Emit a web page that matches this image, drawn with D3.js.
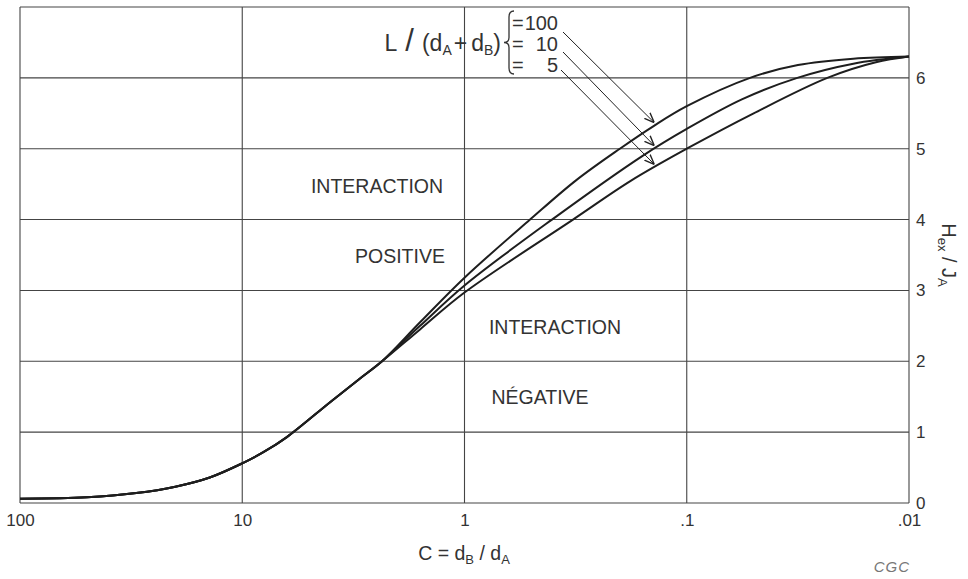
<!DOCTYPE html>
<html>
<head>
<meta charset="utf-8">
<script src="https://cdn.jsdelivr.net/npm/d3@7"></script>
<style>
  html, body { margin: 0; padding: 0; background: #fff; }
  svg { display: block; font-family: "Liberation Sans", Arial, sans-serif; }
</style>
</head>
<body>
<svg id="chart" width="968" height="579"></svg>
<script>
// Exchange field ratio H_ex/J_A versus thickness ratio C = d_B/d_A
const xTicks = [100, 10, 1, 0.1, 0.01];
const xTickLabels = ["100", "10", "1", ".1", ".01"];
const yTicks = [0, 1, 2, 3, 4, 5, 6];

// shared branch (all L/(dA+dB) values coincide here)
const commonC = [100, 50, 30, 20, 14, 10, 8, 6.3, 4, 3, 2.35];
const commonH = [0.06, 0.08, 0.14, 0.23, 0.36, 0.56, 0.72, 0.93, 1.43, 1.74, 2.0];

// L/(dA+dB) = 100
const c100 = [1.585, 1, 0.507, 0.316, 0.2, 0.141, 0.1, 0.0519, 0.0316, 0.0178, 0.01];
const h100 = [2.55, 3.18, 4.0, 4.55, 5.0, 5.32, 5.6, 6.0, 6.18, 6.27, 6.3];
// L/(dA+dB) = 10
const c10 = [1.585, 1, 0.404, 0.158, 0.1, 0.0562, 0.0318, 0.0178, 0.01];
const h10 = [2.5, 3.07, 4.0, 4.9, 5.28, 5.7, 6.0, 6.2, 6.3];
// L/(dA+dB) = 5
const c5 = [1.585, 1, 0.325, 0.178, 0.1, 0.05, 0.0233, 0.0141, 0.01];
const h5 = [2.45, 2.97, 4.0, 4.55, 5.0, 5.5, 6.0, 6.22, 6.3];

const legendValues = ["100", "10", "5"];
const arrowC = 0.14;

const svg = d3.select("#chart");
const mLeft = 20, mRight = 909, mTop = 7, mBottom = 503;

const x = d3.scaleLog().domain([100, 0.01]).range([mLeft, mRight]);
const y = d3.scaleLinear().domain([0, 7]).range([mBottom, mTop]);

const gridColor = "#444";
const textColor = "#333";

// grid and frame
const g = svg.append("g");
g.selectAll("line.vx").data(xTicks).enter().append("line")
  .attr("x1", d => x(d)).attr("x2", d => x(d))
  .attr("y1", mTop).attr("y2", mBottom)
  .attr("stroke", gridColor).attr("stroke-width", 1.1);
g.selectAll("line.hy").data(yTicks.concat([7])).enter().append("line")
  .attr("x1", mLeft).attr("x2", mRight)
  .attr("y1", d => y(d)).attr("y2", d => y(d))
  .attr("stroke", gridColor).attr("stroke-width", 1.1);

// tick labels via d3 axes
const xAxis = d3.axisBottom(x).tickValues(xTicks)
  .tickFormat((d, i) => xTickLabels[i]).tickSize(0).tickPadding(11);
svg.append("g").attr("transform", `translate(0,${mBottom})`).call(xAxis)
  .call(s => s.select(".domain").remove())
  .selectAll("text").attr("font-size", 17).attr("fill", textColor)
  .attr("font-family", "'Liberation Sans Narrow', 'Liberation Sans', sans-serif");

const yAxis = d3.axisRight(y).tickValues(yTicks).tickFormat(d3.format("d"))
  .tickSize(0).tickPadding(7);
svg.append("g").attr("transform", `translate(${mRight},0)`).call(yAxis)
  .call(s => s.select(".domain").remove())
  .selectAll("text").attr("font-size", 17).attr("fill", textColor);

// curves
const line = d3.line().x(d => x(d[0])).y(d => y(d[1])).curve(d3.curveCatmullRom.alpha(0.5));
const zip = (a, b) => a.map((v, i) => [v, b[i]]);
const common = zip(commonC, commonH);
const series = [zip(c100, h100), zip(c10, h10), zip(c5, h5)];
series.forEach(s => {
  svg.append("path").datum(common.concat(s))
    .attr("d", line).attr("fill", "none")
    .attr("stroke", "#1e1e1e").attr("stroke-width", 2);
});

// region labels
const regionLabels = [
  { t: "INTERACTION", cx: 377, cy: 186 },
  { t: "POSITIVE", cx: 400, cy: 256 },
  { t: "INTERACTION", cx: 555, cy: 327 },
  { t: "NÉGATIVE", cx: 540, cy: 397 }
];
svg.selectAll("text.region").data(regionLabels).enter().append("text")
  .attr("x", d => d.cx).attr("y", d => d.cy)
  .attr("text-anchor", "middle").attr("dominant-baseline", "central")
  .attr("font-size", 19.5).attr("fill", textColor).text(d => d.t);

// legend: L/(dA+dB) with brace
const leg = svg.append("text").attr("x", 501).attr("y", 51)
  .attr("text-anchor", "end")
  .attr("font-size", 23).attr("fill", textColor);
leg.append("tspan").text("L");
leg.append("tspan").text("/").attr("font-size", 31).attr("dx", 8);
leg.append("tspan").text("(d").attr("font-size", 23).attr("dx", 8);
leg.append("tspan").text("A").attr("font-size", 14).attr("dy", 4);
leg.append("tspan").text("+").attr("font-size", 23).attr("dy", -4).attr("dx", 2);
leg.append("tspan").text("d").attr("font-size", 23).attr("dx", 4);
leg.append("tspan").text("B").attr("font-size", 14).attr("dy", 4);
leg.append("tspan").text(")").attr("font-size", 23).attr("dy", -4);

// curly brace
const bx = 509, by0 = 11, by1 = 74, bm = (by0 + by1) / 2;
svg.append("path")
  .attr("d", `M${bx + 5},${by0} Q${bx},${by0} ${bx},${by0 + 6} L${bx},${bm - 5} Q${bx},${bm} ${bx - 5},${bm} Q${bx},${bm} ${bx},${bm + 5} L${bx},${by1 - 6} Q${bx},${by1} ${bx + 5},${by1}`)
  .attr("fill", "none").attr("stroke", textColor).attr("stroke-width", 1.3);

const legY = [23, 44, 65];
svg.selectAll("text.leq").data(legendValues).enter().append("text")
  .attr("x", 512).attr("y", (d, i) => legY[i])
  .attr("dominant-baseline", "central")
  .attr("font-size", 20).attr("fill", textColor).text("=");
svg.selectAll("text.lv").data(legendValues).enter().append("text")
  .attr("x", 558).attr("y", (d, i) => legY[i])
  .attr("text-anchor", "end").attr("dominant-baseline", "central")
  .attr("font-size", 20).attr("fill", textColor).text(d => d);

// arrows from legend entries to their curves
svg.append("defs").append("marker").attr("id", "ah")
  .attr("viewBox", "0 0 10 10").attr("refX", 10).attr("refY", 5)
  .attr("markerWidth", 10).attr("markerHeight", 10).attr("orient", "auto")
  .attr("markerUnits", "userSpaceOnUse")
  .append("path").attr("d", "M0,1 L10,5 L0,9").attr("fill", "none")
  .attr("stroke", "#222").attr("stroke-width", 1.4);

const interp = (cs, hs, c) => {
  const lc = Math.log10(c);
  for (let i = 0; i < cs.length - 1; i++) {
    const a = Math.log10(cs[i]), b = Math.log10(cs[i + 1]);
    if (lc <= a && lc >= b) return hs[i] + (hs[i + 1] - hs[i]) * (lc - a) / (b - a);
  }
  return hs[hs.length - 1];
};
const arrowStarts = [[563, 32], [563, 52], [561, 70]];
[[c100, h100], [c10, h10], [c5, h5]].forEach((s, i) => {
  const tx = x(arrowC), ty = y(interp(s[0], s[1], arrowC)) - 3;
  svg.append("line")
    .attr("x1", arrowStarts[i][0]).attr("y1", arrowStarts[i][1])
    .attr("x2", tx).attr("y2", ty)
    .attr("stroke", "#222").attr("stroke-width", 1)
    .attr("marker-end", "url(#ah)");
});

// axis titles
const xt = svg.append("text").attr("x", 464).attr("y", 560)
  .attr("text-anchor", "middle").attr("font-size", 19.5).attr("fill", textColor);
xt.append("tspan").text("C = d");
xt.append("tspan").text("B").attr("font-size", 13).attr("dy", 4);
xt.append("tspan").text(" / d").attr("dy", -4);
xt.append("tspan").text("A").attr("font-size", 13).attr("dy", 4);

const yt = svg.append("text")
  .attr("transform", "translate(942,255) rotate(90)")
  .attr("text-anchor", "middle").attr("font-size", 20).attr("fill", textColor);
yt.append("tspan").text("H");
yt.append("tspan").text("ex").attr("font-size", 13).attr("dy", 4);
yt.append("tspan").text(" / J").attr("dy", -4);
yt.append("tspan").text("A").attr("font-size", 13).attr("dy", 4);

svg.append("text").attr("x", 910).attr("y", 572).attr("text-anchor", "end")
  .attr("font-size", 15).attr("font-style", "italic").attr("fill", "#777")
  .attr("letter-spacing", 1).text("CGC");
</script>
</body>
</html>
